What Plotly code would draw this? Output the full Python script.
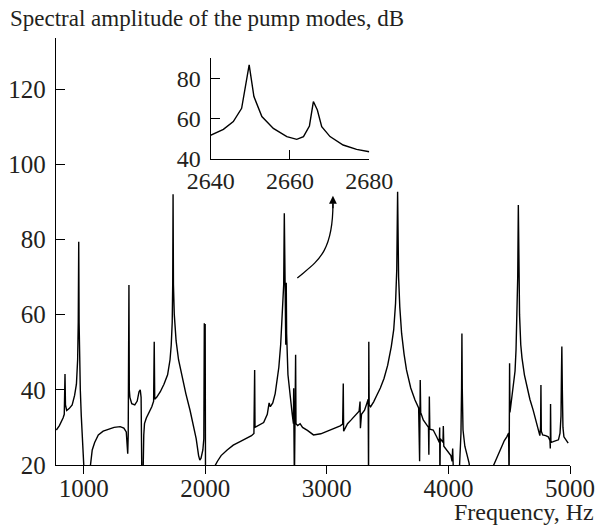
import plotly.graph_objects as go

# Main spectrum (Hz, dB)
freq = [775, 800, 830, 840, 846, 850, 860, 880, 905, 925, 940, 950, 955, 959, 962, 966, 972, 980, 992, 1005,
        1045, 1055, 1070, 1090, 1120, 1160, 1200, 1250, 1300, 1330, 1350, 1358, 1362, 1366, 1372, 1375, 1380,
        1395, 1420, 1440, 1455, 1465, 1472, 1478, 1488, 1494, 1500, 1515, 1540, 1560, 1575, 1580, 1584, 1600,
        1630, 1660, 1690, 1710, 1720, 1728, 1732, 1735, 1738, 1745, 1760, 1780, 1810, 1840, 1875, 1900, 1925,
        1945, 1955, 1965, 1980, 1988, 1992, 1995, 1999, 2002, 2070, 2080, 2100, 2130, 2180, 2230, 2290, 2340,
        2380, 2400, 2406, 2409, 2440, 2480, 2510, 2525, 2535, 2555, 2575, 2590, 2605, 2620, 2635, 2645, 2650,
        2653, 2658, 2662, 2664, 2666, 2669, 2680, 2700, 2715, 2725, 2727, 2729, 2733, 2737, 2743, 2746, 2760,
        2780, 2800, 2840, 2890, 2950, 3000, 3060, 3110, 3130, 3135, 3138, 3142, 3170, 3200, 3240, 3265, 3273,
        3276, 3285, 3310, 3330, 3340, 3343, 3345, 3348, 3360, 3385, 3410, 3440, 3470, 3500, 3530, 3550, 3565,
        3575, 3582, 3590, 3600, 3615, 3635, 3655, 3690, 3725, 3755, 3763, 3768, 3772, 3793, 3820, 3836, 3839,
        3843, 3847, 3875, 3903, 3925, 3928, 3930, 3933, 3955, 3958, 3962, 3985, 4000, 4020, 4030, 4035, 4040,
        4047, 4085, 4095, 4103, 4108, 4111, 4114, 4120, 4135, 4150, 4170, 4190, 4360, 4370, 4400, 4430, 4460,
        4480, 4495, 4499, 4501, 4503, 4506, 4512, 4525, 4535, 4548, 4556, 4565, 4570, 4575, 4580, 4585, 4595,
        4605, 4625, 4645, 4670, 4697, 4720, 4740, 4752, 4758, 4761, 4764, 4775, 4800, 4821, 4835, 4838, 4840,
        4843, 4862, 4885, 4905, 4918, 4926, 4930, 4933, 4937, 4942, 4950, 4965, 4985]
amp = [29.3, 30.5, 32.5, 33.5, 44.2, 36, 34.5, 35, 36, 38.5, 41.5, 48, 58, 79.4, 58, 48, 40, 33, 26, 17,
       17, 20.5, 24, 26, 28, 29, 29.5, 30, 30.2, 29.8, 28.8, 26, 23, 28, 67.9, 40, 38,
       36.3, 36, 37, 39.5, 40, 38, 17, 17, 28, 31, 32.5, 34, 35.5, 37, 52.8, 37.5, 38,
       39.5, 41.5, 44, 48, 52, 58, 68, 92, 68, 60, 53, 48, 43, 39, 34.5, 31, 27,
       22.5, 21.3, 21.8, 24, 27, 57.7, 35, 57.5, 15, 18, 19.8, 21, 22.5, 24, 25.3, 26.3, 27.1,
       27.8, 28.4, 45.3, 30, 30.5, 31.3, 33.5, 36.5, 35.5, 36.5, 39, 42, 46, 52, 60, 68, 87,
       70, 58, 52, 57, 68.5, 55, 44, 37, 33.5, 31, 40.4, 31, 15, 30, 49.3, 31, 30.5,
       31, 30, 29.2, 28, 28.3, 28.9, 29.8, 30.4, 30.9, 41.7, 29, 29.3, 31, 32, 33.3, 34.3, 36.9,
       29.8, 33.5, 34.6, 36.5, 37.5, 15, 52.8, 36, 35.5, 36.8, 38.5, 40.5, 43, 46.5, 51.5, 56, 63,
       72, 92.7, 70, 62, 55, 49.5, 45.3, 40.5, 37.3, 35.2, 21, 42.6, 34, 32, 30.8, 30, 22.7,
       38.2, 29.5, 29.3, 27.5, 26, 30, 15, 27, 26, 30.4, 25, 24, 23.5, 22.5, 21, 24.4, 19,
       15, 15, 22, 28.4, 40, 55, 40, 29.3, 25, 23.1, 20.5, 15, 15, 19.8, 22, 24.5, 26.5,
       27.5, 28.5, 15, 28, 47.1, 34, 35.5, 38.5, 40.8, 45, 50.6, 60, 70, 89.2, 68, 60, 52,
       48.5, 44, 40.8, 37.5, 34.6, 31.5, 29.3, 27.8, 30, 41.3, 29, 28, 27.8, 27.5, 26.5, 24.4, 36.2,
       26, 26.2, 26.5, 26.7, 28.5, 33, 45, 51.5, 40, 30, 27.5, 26.8, 25.8]

# Inset: zoom around 2640-2680 Hz
inset_freq = [2639.8, 2643.2, 2645.7, 2647.8, 2649.7, 2650.9, 2652.9, 2655.8, 2659.2, 2661.7, 2663.4,
              2664.9, 2665.9, 2666.9, 2668.0, 2670.1, 2673.4, 2676.8, 2680.0]
inset_amp = [51.7, 54.8, 58.7, 65.3, 87.0, 71.2, 61.2, 55.3, 51.2, 49.8, 51.2,
             56.5, 68.7, 64.5, 56.2, 51.2, 47.0, 44.8, 43.6]

main_xticks = [1000, 2000, 3000, 4000, 5000]
main_yticks = [20, 40, 60, 80, 100, 120]
inset_xticks = [2640, 2660, 2680]
inset_yticks = [40, 60, 80]

FONT = "Liberation Serif"
INK = "#231f20"
XRANGE = [772, 5000]

fig = go.Figure()
fig.add_trace(go.Scatter(x=freq, y=amp, mode="lines", line=dict(color="black", width=1.4),
                         xaxis="x", yaxis="y", showlegend=False, hoverinfo="skip"))
fig.add_trace(go.Scatter(x=inset_freq, y=inset_amp, mode="lines", line=dict(color="black", width=1.4),
                         xaxis="x2", yaxis="y2", showlegend=False, hoverinfo="skip"))

def axis_style(size):
    return dict(showgrid=False, zeroline=False, showline=True, linecolor="black", linewidth=1.3,
                tickcolor="black", tickwidth=1.3, automargin=False,
                tickfont=dict(family=FONT, size=size, color=INK))

fig.update_layout(
    template="none",
    width=600, height=529,
    margin=dict(l=56, r=30, t=38, b=64),
    paper_bgcolor="white", plot_bgcolor="rgba(0,0,0,0)",
    # main x axis: labels only (tick marks come from the overlaid axis x3)
    xaxis=dict(range=XRANGE, tickvals=main_xticks, ticks="", domain=[0, 1],
               anchor="y", ticklabelstandoff=1, **axis_style(25)),
    xaxis3=dict(range=XRANGE, tickvals=main_xticks, ticks="outside", ticklen=8, domain=[0, 1],
                anchor="y", overlaying="x", showticklabels=False, **axis_style(25)),
    yaxis=dict(range=[20, 133.6], tickvals=main_yticks, ticks="inside", ticklen=9, domain=[0, 1],
               anchor="x", ticklabelstandoff=4, **axis_style(25)),
    xaxis2=dict(range=[2640, 2680], tickvals=inset_xticks, ticks="inside", ticklen=9,
                domain=[0.301, 0.6095], anchor="y2", **axis_style(24)),
    yaxis2=dict(range=[40, 90.3], tickvals=inset_yticks, ticks="inside", ticklen=9,
                domain=[0.7166, 0.9525], anchor="x2", ticklabelstandoff=4, **axis_style(24)),
)
# invisible trace to activate the tick-mark axis
fig.add_trace(go.Scatter(x=[], y=[], xaxis="x3", yaxis="y", showlegend=False, hoverinfo="skip"))

# Title annotations
fig.add_annotation(text="Spectral amplitude of the pump modes, dB", xref="paper", yref="paper",
                   x=-0.0934, y=1.0445, xanchor="left", yanchor="middle", showarrow=False,
                   font=dict(family=FONT, size=23, color=INK))
fig.add_annotation(text="Frequency, Hz", xref="paper", yref="paper",
                   x=1.0506, y=-0.111, xanchor="right", yanchor="middle", showarrow=False,
                   font=dict(family=FONT, size=24, color=INK))

# Curved arrow pointing to the inset
fig.add_shape(type="path", xref="x", yref="y",
              path="M 2757,69.75 C 2910,74 3050,76 3050,89.5",
              line=dict(color="black", width=1.3))
fig.add_annotation(x=3050, y=91.6, xref="x", yref="y", ax=0, ay=14, text="", showarrow=True,
                   arrowhead=2, arrowsize=1.2, arrowwidth=1.3, arrowcolor="black")

fig.write_html("out.html", config={"displayModeBar": False},
               post_script="document.body.style.margin='0';document.body.style.overflow='hidden';")
